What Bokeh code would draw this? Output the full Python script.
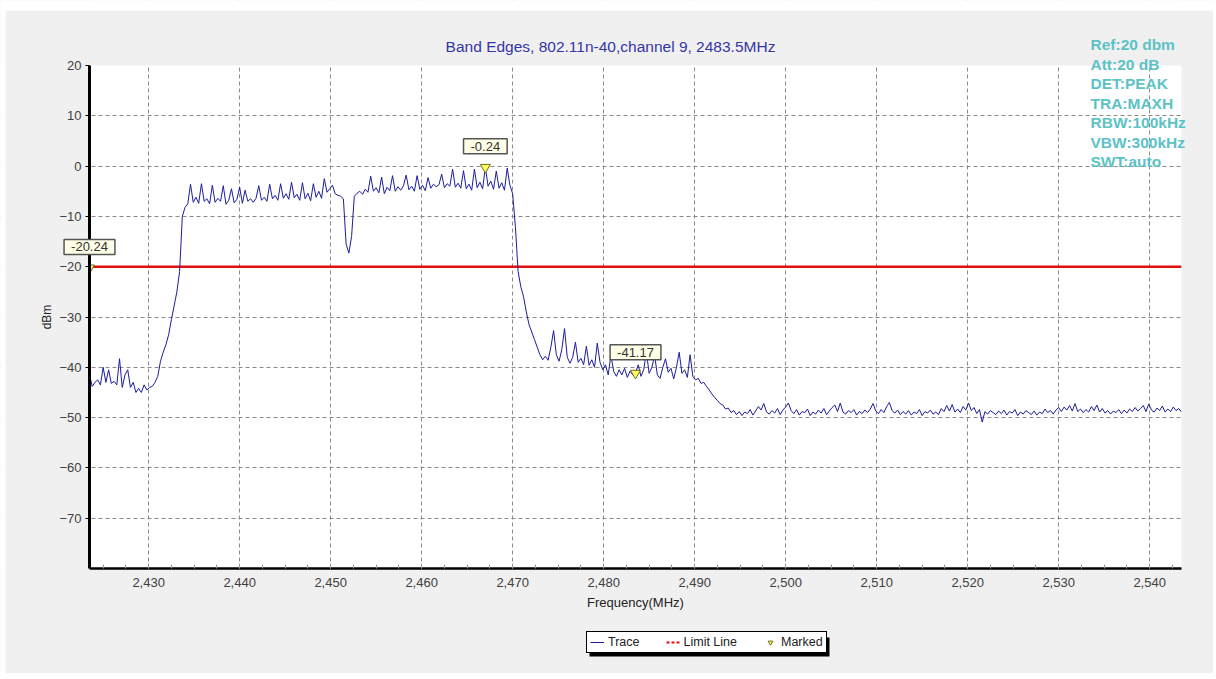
from bokeh.plotting import figure
from bokeh.models import (FixedTicker, NumeralTickFormatter, Label, Legend,
                          LegendItem, BoxAnnotation)
from bokeh.embed import file_html
from bokeh.resources import INLINE

FONT = "Liberation Sans"

title_text = "Band Edges, 802.11n-40,channel 9, 2483.5MHz"
settings_text = ["Ref:20 dbm", "Att:20 dB", "DET:PEAK", "TRA:MAXH",
                 "RBW:100kHz", "VBW:300kHz", "SWT:auto"]

freq_start = 2423.5
freq_stop = 2543.5
freq_step = 0.3
level_min = -80.0
level_max = 20.0

# lower adjacent channel + rising edge
trace_a = [-41.5, -43.8, -43.0, -42.5, -43.5, -40.0, -43.0, -40.5, -43.2, -42.8,
           -43.5, -38.3, -44.0, -41.5, -40.5, -44.0, -43.0, -45.0, -44.2, -45.0,
           -43.5, -44.5, -44.0, -43.8, -43.0, -41.8, -38.8, -37.0, -35.5, -33.5,
           -30.5, -27.8, -25.0, -21.0, -10.0, -8.2, -7.5]
# in-band, lower half incl. notch
trace_b = [-3.6, -7.2, -6.2, -7.4, -3.5, -7.0, -6.5, -7.5, -3.8, -7.2,
           -6.4, -7.0, -3.9, -7.6, -6.8, -4.5, -7.3, -6.6, -4.2, -7.4,
           -4.8, -7.0, -6.5, -7.2, -6.4, -3.9, -6.8, -6.2, -7.0, -3.6,
           -6.5, -5.8, -6.8, -3.5, -6.4, -5.5, -6.6, -3.2, -6.3, -5.6,
           -6.8, -3.3, -6.5, -5.4, -6.9, -3.5, -6.2, -5.0, -6.4, -2.5,
           -5.2, -4.5, -3.8, -5.5, -5.8, -6.0, -6.5, -15.5, -17.3, -14.0]
# in-band, upper half
trace_c = [-6.0, -5.4, -5.0, -5.6, -4.6, -5.2, -2.0, -5.0, -4.3, -5.3,
           -2.2, -5.5, -4.2, -4.9, -1.9, -5.0, -4.1, -4.8, -3.9, -1.8,
           -4.7, -4.0, -5.0, -1.9, -4.6, -3.8, -4.9, -2.3, -4.4, -3.6,
           -4.1, -3.7, -1.6, -4.3, -3.5, -4.0, -0.6, -4.2, -3.4, -4.4,
           -0.9, -4.5, -3.6, -4.8, -0.6, -4.3, -3.2, -4.5, -0.24, -4.0,
           -3.0, -4.6, -1.0, -4.4, -3.3, -4.8, -0.4, -3.8]
# falling edge + restricted band shoulder
trace_d = [-5.5, -12.0, -21.0, -24.0, -26.0, -29.0, -31.5, -33.0, -34.5, -36.0,
           -37.5, -38.5, -37.8, -38.6, -36.0, -32.7, -37.5, -38.8, -36.5, -32.3,
           -38.0, -39.2, -38.0, -35.0, -39.0, -38.2, -39.5, -35.8, -39.6, -38.5,
           -40.0, -35.2, -39.0, -40.5, -39.5, -41.5, -37.6, -40.8, -41.8, -40.5,
           -41.5, -40.2, -42.0, -40.8, -41.5, -41.17, -39.5, -41.8, -40.5, -37.0,
           -41.2, -40.0, -37.6, -41.5, -42.2, -40.0, -38.3, -41.0, -40.2, -42.3,
           -40.0, -37.0, -41.2, -40.5, -42.0, -37.5, -41.8, -42.5, -42.2, -43.2,
           -43.0, -43.8, -44.5, -45.3, -46.0, -46.6, -47.2, -47.5, -48.3, -48.1]
# noise floor
trace_e = [-49.0, -48.6, -49.4, -48.8, -49.6, -48.9, -49.2, -48.4, -49.5, -48.7,
           -47.8, -48.5, -47.2, -48.9, -49.3, -48.6, -49.1, -48.2, -49.4, -48.5,
           -47.9, -47.1, -48.6, -49.2, -48.4, -49.5, -48.8, -49.0, -48.3, -49.6,
           -48.9, -49.3, -48.5, -49.1, -48.2, -49.4, -48.7, -48.0, -47.5, -48.8,
           -47.1, -48.9, -49.3, -48.6, -49.0, -48.4, -49.5, -48.8, -49.2, -48.5,
           -49.0, -48.3, -47.2, -48.7, -49.2, -48.4, -49.0, -47.8, -47.0, -48.6,
           -49.1, -48.5, -49.4, -48.8, -49.3, -48.6, -49.5, -48.9, -49.2, -48.4,
           -49.6, -48.8, -49.1, -48.5, -49.3, -48.9, -49.4, -48.2, -48.8, -47.6,
           -48.7, -47.4, -48.9, -48.3, -49.0, -47.8, -48.5, -47.1, -48.6, -48.0,
           -49.2, -48.4, -50.9, -48.8, -49.3, -48.6, -49.0, -49.4, -48.7, -49.2,
           -48.5, -49.5, -48.8, -49.1, -48.4, -49.6, -48.9, -49.3, -48.6, -49.0,
           -49.4, -48.7, -49.5, -48.9, -49.2, -48.3, -49.0, -48.6, -49.3, -48.5,
           -48.0, -48.8, -47.9, -48.5, -47.6, -48.7, -47.2, -48.8, -48.3, -49.0,
           -48.4, -48.9, -47.8, -48.6, -47.5, -48.9, -48.2, -49.1, -48.6, -49.3,
           -48.7, -49.0, -48.4, -49.2, -48.5, -49.1, -48.3, -48.8, -48.0, -48.7,
           -48.2, -47.6, -48.8, -47.3, -48.5, -48.9, -48.1, -48.6, -47.7, -48.9,
           -48.3, -48.8, -47.9, -48.6, -48.2, -48.9]

trace_dbm = trace_a + trace_b + trace_c + trace_d + trace_e
freq_mhz = [freq_start + freq_step * i for i in range(len(trace_dbm))]

limit_dbm = -20.0
marker_freq = [2467.0, 2423.5, 2483.5]
marker_dbm = [-0.24, -20.24, -41.17]

x_ticks = [2430, 2440, 2450, 2460, 2470, 2480, 2490, 2500, 2510, 2520, 2530, 2540]
x_minor = [2425 + 2.5 * i for i in range(48)]
y_ticks = [-70, -60, -50, -40, -30, -20, -10, 0, 10, 20]
y_grid = [-70, -60, -50, -40, -30, -20, -10, 0, 10]

# ---- layout geometry (pixels); the Bokeh frame fills the whole canvas ----
W, H = 1213, 673
PL, PR, PT, PB = 89, 1181, 65, 568          # visible white plot-area edges
px_per_mhz = (PR - PL) / (freq_stop - freq_start)
px_per_db = (PB - PT) / (level_max - level_min)
x_lo = freq_start - PL / px_per_mhz
x_hi = freq_stop + (W - PR) / px_per_mhz
y_hi = level_max + PT / px_per_db
y_lo = level_min - (H - PB) / px_per_db

p = figure(width=W, height=H, x_range=(x_lo, x_hi), y_range=(y_lo, y_hi),
           output_backend="svg", toolbar_location=None, title=None,
           min_border_left=0, min_border_right=0, min_border_top=0,
           min_border_bottom=0,
           background_fill_color="white", border_fill_color="#f0f0f0",
           outline_line_color=None)

# axes, pinned to the edges of the measured area
p.xaxis.ticker = FixedTicker(ticks=x_ticks, minor_ticks=x_minor)
p.xaxis.formatter = NumeralTickFormatter(format="0,0")
p.xaxis.bounds = (freq_start, freq_stop)
p.xaxis.fixed_location = level_min
p.yaxis.ticker = FixedTicker(ticks=y_ticks)
p.yaxis.bounds = (level_min, level_max)
p.yaxis.fixed_location = freq_start
p.xgrid.ticker = FixedTicker(ticks=x_ticks)
p.ygrid.ticker = FixedTicker(ticks=y_grid)
for g in (p.xgrid, p.ygrid):
    g.grid_line_color = "#8a8a8a"
    g.grid_line_dash = "4 3"
    g.grid_line_width = 1

p.xaxis.axis_label = "Frequency(MHz)"
p.yaxis.axis_label = "dBm"
for ax in (p.xaxis, p.yaxis):
    ax.axis_line_color = "black"
    ax.major_label_text_font = FONT
    ax.major_label_text_font_size = "13px"
    ax.major_label_text_color = "#404040"
    ax.axis_label_text_font = FONT
    ax.axis_label_text_font_style = "normal"
    ax.axis_label_text_color = "#222222"
p.xaxis.axis_line_width = 2.5
p.yaxis.axis_line_width = 3
p.xaxis.axis_label_text_font_size = "13px"
p.yaxis.axis_label_text_font_size = "12px"
p.xaxis.major_tick_in = 5
p.xaxis.major_tick_out = 0
p.xaxis.minor_tick_in = 4
p.xaxis.minor_tick_out = 0
p.xaxis.major_tick_line_color = "#999999"
p.xaxis.minor_tick_line_color = "#999999"
p.xaxis.major_label_standoff = 9
p.xaxis.axis_label_standoff = 5
p.yaxis.major_tick_in = 0
p.yaxis.major_tick_out = 4
p.yaxis.minor_tick_line_color = None
p.yaxis.major_tick_line_color = "black"
p.yaxis.major_label_standoff = 4
p.yaxis.axis_label_standoff = 2

# limit line (solid in the plot, dashed swatch in the legend)
limit_r = p.line([freq_start, freq_stop], [limit_dbm, limit_dbm],
                 line_color="#e01010", line_width=2.5)
limit_legend_r = p.line([freq_start], [limit_dbm], line_color="#e01010",
                        line_width=2, line_dash="3 2")

# trace
trace_r = p.line(freq_mhz, trace_dbm, line_color="#1c1c9c", line_width=1)

# markers
marker_r = p.scatter(marker_freq, marker_dbm, marker="inverted_triangle", size=10,
                     fill_color="#ffff55", line_color="#6b6b2a", line_width=1)

# grey surround outside the measured span / level range
for kw in (dict(bottom=level_max), dict(top=level_min),
           dict(right=freq_start), dict(left=freq_stop)):
    p.add_layout(BoxAnnotation(fill_color="#f0f0f0", fill_alpha=1, line_color=None,
                               level="glyph", **kw))
# thin white page margin at the left and top of the panel
p.add_layout(BoxAnnotation(left=0, right=5, left_units="screen", right_units="screen",
                           fill_color="white", fill_alpha=1, line_color=None,
                           level="glyph"))
p.add_layout(BoxAnnotation(bottom=H - 10, bottom_units="screen",
                           fill_color="white", fill_alpha=1, line_color=None,
                           level="glyph"))

for f, v in zip(marker_freq, marker_dbm):
    p.add_layout(Label(x=f, y=v, text=f"{v:.2f}", y_offset=21,
                       text_align="center", text_baseline="middle",
                       text_font=FONT, text_font_size="13px", text_color="#333333",
                       background_fill_color="#ffffe8", background_fill_alpha=1,
                       border_line_color="#555555", border_line_width=1.5,
                       padding=dict(left=7, right=7, top=3, bottom=3)))

# title and instrument settings (screen px, y measured up from the bottom)
p.add_layout(Label(x=610, y=H - 46, x_units="screen", y_units="screen",
                   text=title_text, text_align="center", text_baseline="middle",
                   text_font=FONT, text_font_size="15.5px", text_color="#3636a6"))
for i, s in enumerate(settings_text):
    p.add_layout(Label(x=1090, y=H - 44 - 19.5 * i, x_units="screen",
                       y_units="screen", text=s, text_align="left",
                       text_baseline="middle", text_font=FONT,
                       text_font_style="bold", text_font_size="15.5px",
                       text_color="#5cc2c6"))

# legend with a black drop shadow
p.add_layout(BoxAnnotation(left=589, right=829, bottom=H - 656, top=H - 637,
                           left_units="screen", right_units="screen",
                           bottom_units="screen", top_units="screen",
                           fill_color="black", fill_alpha=1, line_color=None))
legend = Legend(items=[LegendItem(label="Trace", renderers=[trace_r]),
                       LegendItem(label="Limit Line", renderers=[limit_legend_r]),
                       LegendItem(label="Marked", renderers=[marker_r])],
                location=(586, H - 653), orientation="horizontal",
                border_line_color="black", border_line_width=1, border_line_alpha=1,
                background_fill_color="white", background_fill_alpha=1,
                label_text_font=FONT, label_text_font_size="12.5px",
                label_text_color="#222222", glyph_width=14, glyph_height=12,
                label_height=12, label_standoff=4, spacing=26, padding=3, margin=0)
p.add_layout(legend, "center")

open("out.html", "w").write(file_html(p, INLINE))
